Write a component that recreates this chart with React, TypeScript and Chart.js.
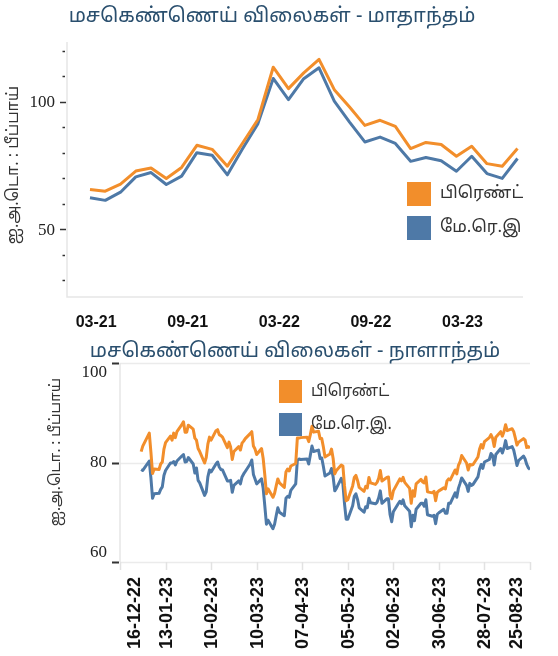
import React, { useEffect, useRef } from "react";
import { Chart, registerables } from "chart.js";
Chart.register(...registerables);

// ---------- DATA ----------
const TITLE_MONTHLY = "மசகெண்ணெய் விலைகள் - மாதாந்தம்";
const TITLE_DAILY = "மசகெண்ணெய் விலைகள் - நாளாந்தம்";
const Y_TITLE = "ஐ.அ.டொ. : பீப்பாய்";
const SERIES_TOP = ["பிரெண்ட்", "மே.ரெ.இ"];
const SERIES_BOTTOM = ["பிரெண்ட்", "மே.ரெ.இ."];

const monthLabels = [
  "03-21", "04-21", "05-21", "06-21", "07-21", "08-21", "09-21", "10-21", "11-21", "12-21",
  "01-22", "02-22", "03-22", "04-22", "05-22", "06-22", "07-22", "08-22", "09-22", "10-22",
  "11-22", "12-22", "01-23", "02-23", "03-23", "04-23", "05-23", "06-23", "07-23",
];
const monthlyBrent = [
  65.6, 64.9, 67.7, 72.8, 74.0, 69.9, 74.2, 82.9, 81.3, 74.7,
  83.8, 93.0, 113.5, 105.1, 111.3, 116.6, 104.7, 97.9, 90.7, 92.7,
  90.3, 81.6, 84.0, 83.2, 78.6, 82.5, 75.7, 74.7, 81.6,
];
const monthlyWTI = [
  62.3, 61.3, 64.5, 70.5, 72.2, 67.5, 70.8, 80.0, 79.0, 71.3,
  81.6, 91.4, 109.1, 100.8, 109.0, 113.3, 100.2, 92.0, 84.2, 86.1,
  83.6, 76.6, 78.1, 76.8, 72.7, 78.6, 71.8, 69.9, 77.7,
];
const monthlyTickLabels = ["03-21", "09-21", "03-22", "09-22", "03-23"];
const monthlyYMajor = [50, 100];
const monthlyYMinor = [30, 40, 60, 70, 80, 90, 110, 120];

const dailyDates = [
  "29-12-22", "30-12-22", "03-01-23", "04-01-23", "05-01-23", "06-01-23", "09-01-23", "10-01-23", "11-01-23", "12-01-23",
  "13-01-23", "16-01-23", "17-01-23", "18-01-23", "19-01-23", "20-01-23", "23-01-23", "24-01-23", "25-01-23", "26-01-23",
  "27-01-23", "30-01-23", "31-01-23", "01-02-23", "02-02-23", "03-02-23", "06-02-23", "07-02-23", "08-02-23", "09-02-23",
  "10-02-23", "13-02-23", "14-02-23", "15-02-23", "16-02-23", "17-02-23", "20-02-23", "21-02-23", "22-02-23", "23-02-23",
  "24-02-23", "27-02-23", "28-02-23", "01-03-23", "02-03-23", "03-03-23", "06-03-23", "07-03-23", "08-03-23", "09-03-23",
  "10-03-23", "13-03-23", "14-03-23", "15-03-23", "16-03-23", "17-03-23", "20-03-23", "21-03-23", "22-03-23", "23-03-23",
  "24-03-23", "27-03-23", "28-03-23", "29-03-23", "30-03-23", "31-03-23", "03-04-23", "04-04-23", "05-04-23", "06-04-23",
  "10-04-23", "11-04-23", "12-04-23", "13-04-23", "14-04-23", "17-04-23", "18-04-23", "19-04-23", "20-04-23", "21-04-23",
  "24-04-23", "25-04-23", "26-04-23", "27-04-23", "28-04-23", "01-05-23", "02-05-23", "03-05-23", "04-05-23", "05-05-23",
  "08-05-23", "09-05-23", "10-05-23", "11-05-23", "12-05-23", "15-05-23", "16-05-23", "17-05-23", "18-05-23", "19-05-23",
  "22-05-23", "23-05-23", "24-05-23", "25-05-23", "26-05-23", "29-05-23", "30-05-23", "31-05-23", "01-06-23", "02-06-23",
  "05-06-23", "06-06-23", "07-06-23", "08-06-23", "09-06-23", "12-06-23", "13-06-23", "14-06-23", "15-06-23", "16-06-23",
  "19-06-23", "20-06-23", "21-06-23", "22-06-23", "23-06-23", "26-06-23", "27-06-23", "28-06-23", "29-06-23", "30-06-23",
  "03-07-23", "04-07-23", "05-07-23", "06-07-23", "07-07-23", "10-07-23", "11-07-23", "12-07-23", "13-07-23", "14-07-23",
  "17-07-23", "18-07-23", "19-07-23", "20-07-23", "21-07-23", "24-07-23", "25-07-23", "26-07-23", "27-07-23", "28-07-23",
  "31-07-23", "01-08-23", "02-08-23", "03-08-23", "04-08-23", "07-08-23", "08-08-23", "09-08-23", "10-08-23", "11-08-23",
  "14-08-23", "15-08-23", "16-08-23", "17-08-23", "18-08-23", "21-08-23", "22-08-23", "23-08-23", "24-08-23", "25-08-23",
];
const dailyBrent = [
  82.2, 83.3, 85.9, 82.1, 77.8, 78.7, 78.6, 79.7, 80.1, 82.7,
  84.0, 85.3, 84.5, 85.9, 85.0, 86.2, 87.6, 88.2, 86.1, 86.1,
  87.5, 86.7, 84.9, 84.5, 82.8, 82.2, 79.9, 81.0, 83.7, 85.1,
  84.5, 86.4, 86.6, 85.6, 85.4, 85.1, 83.0, 84.1, 83.1, 80.6,
  82.2, 83.2, 82.5, 83.9, 84.3, 84.8, 85.8, 86.2, 83.3, 82.7,
  81.6, 82.8, 80.8, 77.5, 73.7, 74.7, 73.0, 73.8, 75.3, 76.7,
  75.9, 75.0, 78.1, 78.7, 78.3, 79.3, 79.8, 84.9, 84.9, 85.0,
  85.1, 84.2, 85.6, 87.3, 86.1, 86.3, 84.8, 84.8, 83.1, 81.1,
  81.7, 82.7, 80.8, 77.7, 78.4, 79.5, 79.3, 75.3, 72.3, 72.5,
  75.3, 77.0, 77.4, 76.4, 75.0, 74.2, 75.2, 74.9, 77.0, 75.9,
  75.6, 76.0, 76.8, 78.4, 76.3, 77.0, 77.1, 73.5, 72.7, 74.3,
  76.1, 76.7, 76.3, 77.0, 76.0, 74.8, 71.8, 74.3, 73.2, 75.7,
  76.6, 76.1, 75.9, 77.1, 74.1, 73.9, 74.2, 72.3, 74.0, 74.3,
  74.9, 74.7, 76.3, 76.7, 76.5, 78.5, 77.7, 79.4, 80.1, 81.4,
  79.9, 78.5, 79.6, 79.5, 79.6, 81.1, 82.7, 83.6, 82.9, 84.2,
  85.0, 85.6, 84.9, 83.2, 85.1, 86.2, 85.3, 86.2, 87.6, 86.4,
  86.8, 86.2, 84.9, 83.5, 84.1, 84.8, 84.5, 83.0, 83.2, 82.9,
];
const dailyWTI = [
  78.6, 78.4, 80.3, 76.9, 72.8, 73.7, 73.8, 74.6, 75.1, 77.4,
  78.4, 79.9, 79.9, 80.2, 79.5, 80.3, 81.3, 81.6, 80.1, 80.2,
  81.0, 79.7, 77.9, 78.9, 76.4, 75.9, 73.4, 74.1, 77.1, 78.5,
  78.1, 79.7, 80.1, 79.1, 78.6, 78.5, 76.3, 76.3, 76.4, 74.0,
  75.4, 76.3, 75.7, 77.1, 77.7, 78.2, 79.7, 80.5, 77.6, 76.7,
  75.7, 76.7, 74.8, 71.3, 67.6, 68.4, 66.7, 67.6, 69.3, 70.9,
  70.0, 69.3, 72.8, 73.2, 73.0, 74.4, 75.7, 80.4, 80.7, 80.6,
  80.7, 79.7, 81.5, 83.3, 82.2, 82.5, 80.8, 80.9, 79.2, 77.3,
  77.9, 78.8, 77.1, 74.3, 74.8, 76.8, 75.7, 71.7, 68.6, 68.6,
  71.3, 73.2, 73.7, 72.6, 70.9, 70.0, 71.1, 70.9, 72.8, 71.9,
  71.7, 72.0, 72.9, 74.3, 71.8, 72.7, 72.7, 69.5, 68.1, 70.1,
  71.7, 72.2, 71.7, 72.5, 71.3, 70.2, 67.1, 69.4, 68.3, 70.6,
  71.8, 71.8, 71.2, 72.5, 69.5, 69.2, 69.4, 67.7, 69.6, 69.9,
  70.6, 69.8, 69.8, 71.8, 71.8, 73.9, 73.0, 74.8, 75.8, 76.9,
  75.4, 74.2, 75.8, 75.4, 75.6, 77.1, 78.7, 79.6, 78.8, 80.1,
  80.6, 81.8, 81.4, 79.5, 81.6, 82.8, 81.9, 82.9, 84.4, 82.8,
  83.2, 82.5, 81.0, 79.4, 80.4, 81.3, 80.7, 79.6, 78.9, 78.6,
];
const dailyTickLabels = [
  "16-12-22", "13-01-23", "10-02-23", "10-03-23", "07-04-23",
  "05-05-23", "02-06-23", "30-06-23", "28-07-23", "25-08-23",
];
const dailyYTicks = [60, 80, 100];

// ---------- STYLE ----------
const ORANGE = "#F28E2B";
const BLUE = "#4E79A7";
const TITLE_COLOR = "#2a4f6e";
const AXIS_LIGHT = "#e6e6e6";
const TICK_DARK = "#333333";
const TAMIL_FONT = '"Noto Sans Tamil", "Noto Sans", "DejaVu Sans", sans-serif';
const SERIF = '"Liberation Serif", "DejaVu Serif", serif';
const BOLD_SANS = '"Liberation Sans", Arial, sans-serif';

function dayNum(s: string): number {
  const [d, m, y] = s.split("-").map(Number);
  return Date.UTC(2000 + y, m - 1, d) / 86400000;
}

function drawLegend(ctx: CanvasRenderingContext2D, x: number, y: number, box: number, gap: number, labels: string[], colors: string[], font: string) {
  ctx.save();
  labels.forEach((l, i) => {
    const yy = y + i * gap;
    ctx.fillStyle = colors[i];
    ctx.fillRect(x, yy, box, box);
    ctx.fillStyle = "#333";
    ctx.font = font;
    ctx.textAlign = "left";
    ctx.textBaseline = "middle";
    ctx.fillText(l, x + box + 9, yy + box / 2 + 1);
  });
  ctx.restore();
}

function drawRotated(ctx: CanvasRenderingContext2D, text: string, cx: number, cy: number, font: string, color: string, align: CanvasTextAlign = "center") {
  ctx.save();
  ctx.translate(cx, cy);
  ctx.rotate(-Math.PI / 2);
  ctx.font = font;
  ctx.fillStyle = color;
  ctx.textAlign = align;
  ctx.textBaseline = "middle";
  ctx.fillText(text, 0, 0);
  ctx.restore();
}

const topDecor = {
  id: "topDecor",
  beforeDatasetsDraw(chart: any) {
    const { ctx, chartArea: a, scales } = chart;
    const y = scales.y;
    const x = scales.x;
    ctx.save();
    ctx.strokeStyle = AXIS_LIGHT;
    ctx.lineWidth = 1.5;
    ctx.beginPath();
    ctx.moveTo(a.left, a.top);
    ctx.lineTo(a.left, a.bottom);
    ctx.lineTo(a.right, a.bottom);
    ctx.stroke();
    ctx.strokeStyle = TICK_DARK;
    ctx.lineWidth = 1.5;
    monthlyYMajor.forEach((v) => {
      const py = Math.round(y.getPixelForValue(v)) + 0.5;
      ctx.beginPath();
      ctx.moveTo(a.left - 7, py);
      ctx.lineTo(a.left - 1, py);
      ctx.stroke();
    });
    monthlyYMinor.forEach((v) => {
      const py = Math.round(y.getPixelForValue(v)) + 0.5;
      ctx.beginPath();
      ctx.moveTo(a.left - 4.5, py);
      ctx.lineTo(a.left - 2, py);
      ctx.stroke();
    });
    ctx.fillStyle = "#222";
    ctx.font = `17px ${SERIF}`;
    ctx.textAlign = "right";
    ctx.textBaseline = "middle";
    monthlyYMajor.forEach((v) => {
      ctx.fillText(String(v), a.left - 12, y.getPixelForValue(v) + 1);
    });
    ctx.font = `bold 16px ${BOLD_SANS}`;
    ctx.fillStyle = "#111";
    ctx.textAlign = "center";
    monthlyTickLabels.forEach((t) => {
      const px = x.getPixelForValue(monthLabels.indexOf(t) + 0.4);
      ctx.fillText(t, px, a.bottom + 26);
    });
    ctx.font = `20px ${TAMIL_FONT}`;
    ctx.fillStyle = TITLE_COLOR;
    ctx.textAlign = "center";
    ctx.fillText(TITLE_MONTHLY, 272, 18);
    ctx.restore();
    drawRotated(ctx, Y_TITLE, 15, 165, `16px ${TAMIL_FONT}`, "#333");
  },
  afterDraw(chart: any) {
    drawLegend(chart.ctx, 407, 182, 24, 34, SERIES_TOP, [ORANGE, BLUE], `17px ${TAMIL_FONT}`);
  },
};

const bottomDecor = {
  id: "bottomDecor",
  beforeDatasetsDraw(chart: any) {
    const { ctx, chartArea: a, scales } = chart;
    const y = scales.y;
    const x = scales.x;
    ctx.save();
    ctx.strokeStyle = "#ebebeb";
    ctx.lineWidth = 1.5;
    dailyYTicks.forEach((v) => {
      const py = Math.round(y.getPixelForValue(v)) + 0.5;
      ctx.beginPath();
      ctx.moveTo(a.left, py);
      ctx.lineTo(a.right, py);
      ctx.stroke();
    });
    ctx.strokeStyle = AXIS_LIGHT;
    ctx.beginPath();
    ctx.moveTo(a.left, a.top);
    ctx.lineTo(a.left, a.bottom);
    ctx.stroke();
    ctx.strokeStyle = "#e2e2e2";
    dailyTickLabels.forEach((t) => {
      const px = Math.round(x.getPixelForValue(dayNum(t))) + 0.5;
      ctx.beginPath();
      ctx.moveTo(px, a.bottom);
      ctx.lineTo(px, a.bottom + 8);
      ctx.stroke();
    });
    ctx.strokeStyle = TICK_DARK;
    ctx.lineWidth = 2;
    dailyYTicks.forEach((v) => {
      const py = Math.round(y.getPixelForValue(v)) + 0.5;
      ctx.beginPath();
      ctx.moveTo(a.left - 8, py);
      ctx.lineTo(a.left - 1, py);
      ctx.stroke();
    });
    ctx.fillStyle = "#222";
    ctx.font = `17px ${SERIF}`;
    ctx.textAlign = "right";
    ctx.textBaseline = "middle";
    dailyYTicks.forEach((v) => {
      const py = Math.max(a.top + 10, Math.min(a.bottom - 9, y.getPixelForValue(v)));
      ctx.fillText(String(v), a.left - 13, py);
    });
    ctx.restore();
    dailyTickLabels.forEach((t) => {
      const px = x.getPixelForValue(dayNum(t));
      const cx = Math.max(a.left + 15, Math.min(a.right - 13, px + 1));
      drawRotated(ctx, t, cx, a.bottom + 15, `bold 18px ${BOLD_SANS}`, "#111", "right");
    });
    ctx.save();
    ctx.font = `20px ${TAMIL_FONT}`;
    ctx.fillStyle = TITLE_COLOR;
    ctx.textAlign = "center";
    ctx.textBaseline = "middle";
    ctx.fillText(TITLE_DAILY, 295, 13);
    ctx.restore();
    drawRotated(ctx, Y_TITLE, 57, 112, `15px ${TAMIL_FONT}`, "#333");
  },
  afterDraw(chart: any) {
    drawLegend(chart.ctx, 279, 40, 23, 33, SERIES_BOTTOM, [ORANGE, BLUE], `16px ${TAMIL_FONT}`);
  },
};

function lineDataset(label: string, pts: { x: number; y: number }[], color: string) {
  return {
    label,
    data: pts,
    borderColor: color,
    backgroundColor: color,
    borderWidth: 3,
    pointRadius: 0,
    tension: 0,
    fill: false,
    borderJoinStyle: "round" as const,
    borderCapStyle: "butt" as const,
  };
}

export default function App() {
  const topRef = useRef<HTMLCanvasElement | null>(null);
  const botRef = useRef<HTMLCanvasElement | null>(null);

  useEffect(() => {
    const top = new Chart(topRef.current as HTMLCanvasElement, {
      type: "line",
      data: {
        datasets: [
          lineDataset(SERIES_TOP[0], monthlyBrent.map((v, i) => ({ x: i, y: v })), ORANGE),
          lineDataset(SERIES_TOP[1], monthlyWTI.map((v, i) => ({ x: i, y: v })), BLUE),
        ],
      },
      options: {
        responsive: false,
        animation: false,
        devicePixelRatio: 1,
        layout: { padding: { left: 67, right: 35, top: 42, bottom: 43 } },
        plugins: { legend: { display: false }, title: { display: false }, tooltip: { enabled: false } },
        scales: {
          x: { type: "linear", display: false, min: -1.506, max: 28.36 },
          y: { type: "linear", display: false, min: 23.4, max: 123.4 },
        },
      },
      plugins: [topDecor],
    } as any);

    const bot = new Chart(botRef.current as HTMLCanvasElement, {
      type: "line",
      data: {
        datasets: [
          lineDataset(SERIES_BOTTOM[0], dailyBrent.map((v, i) => ({ x: dayNum(dailyDates[i]), y: v })), ORANGE),
          lineDataset(SERIES_BOTTOM[1], dailyWTI.map((v, i) => ({ x: dayNum(dailyDates[i]), y: v })), BLUE),
        ],
      },
      options: {
        responsive: false,
        animation: false,
        devicePixelRatio: 1,
        layout: { padding: { left: 120, right: 28, top: 23, bottom: 94 } },
        plugins: { legend: { display: false }, title: { display: false }, tooltip: { enabled: false } },
        scales: {
          x: { type: "linear", display: false, min: dayNum(dailyTickLabels[0]), max: dayNum(dailyTickLabels[dailyTickLabels.length - 1]) },
          y: { type: "linear", display: false, min: 60, max: 100 },
        },
      },
      plugins: [bottomDecor],
    } as any);

    return () => {
      top.destroy();
      bot.destroy();
    };
  }, []);

  return (
    <div style={{ position: "absolute", left: 0, top: 0, width: 558, height: 656, background: "#fff" }}>
      <canvas ref={topRef} width={558} height={340} style={{ position: "absolute", left: 0, top: 0, width: 558, height: 340 }} />
      <canvas ref={botRef} width={558} height={316} style={{ position: "absolute", left: 0, top: 340, width: 558, height: 316 }} />
    </div>
  );
}
